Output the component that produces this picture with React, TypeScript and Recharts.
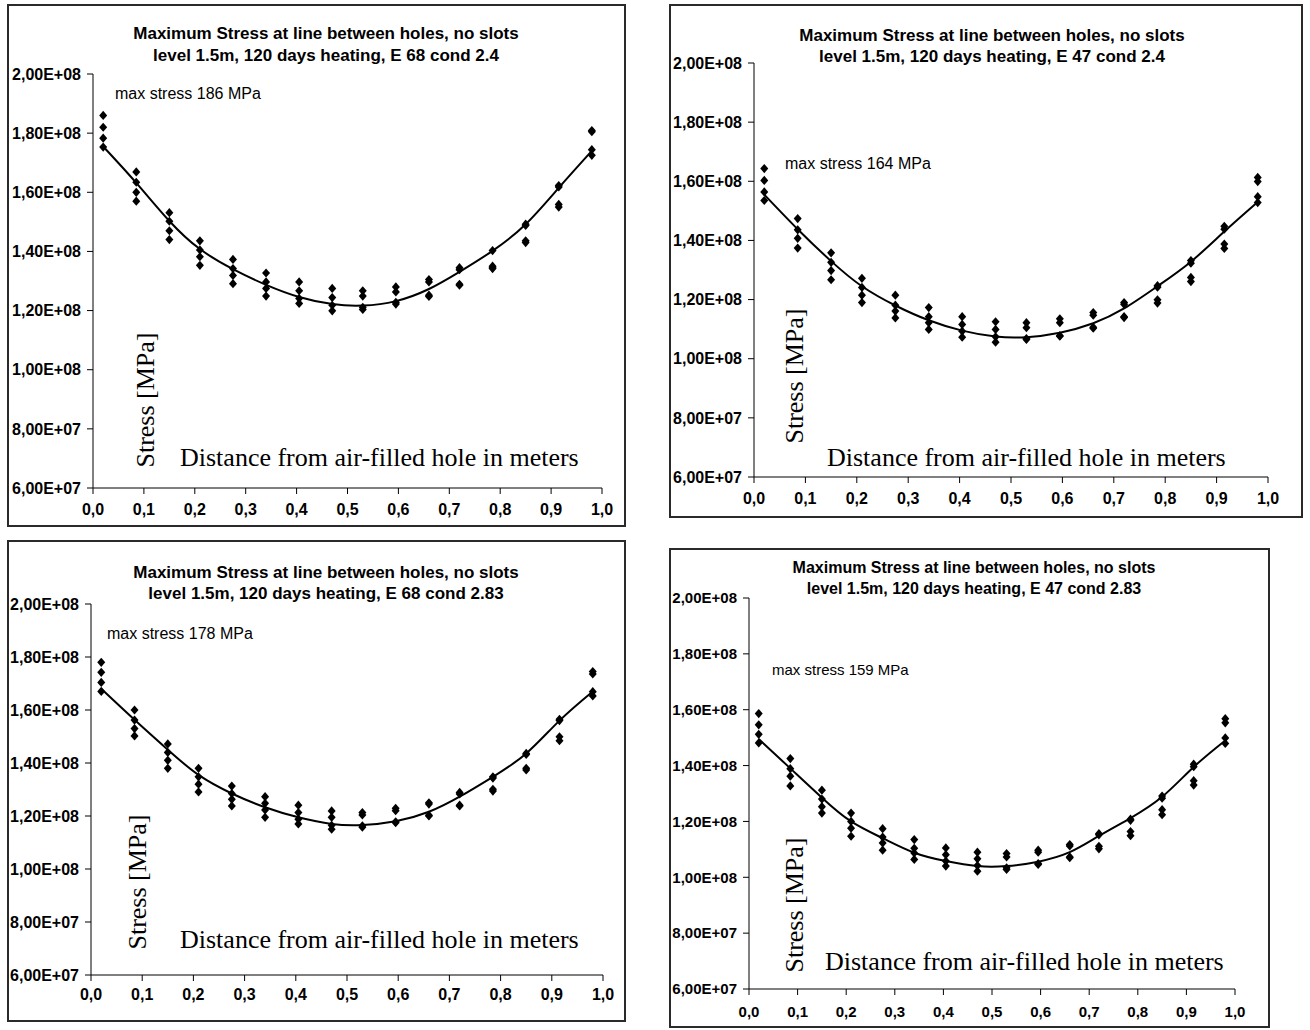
import { ComposedChart, Scatter, Line, XAxis, YAxis } from "recharts";

// distance from the air-filled hole [m]
const distance = [0.02, 0.085, 0.15, 0.21, 0.275, 0.34, 0.405, 0.47, 0.53, 0.595, 0.66, 0.72, 0.785, 0.85, 0.915, 0.98];
const xTicks = [0, 0.1, 0.2, 0.3, 0.4, 0.5, 0.6, 0.7, 0.8, 0.9, 1.0];
const yTicks = [6e7, 8e7, 1e8, 1.2e8, 1.4e8, 1.6e8, 1.8e8, 2e8];

// stress readings in MPa, four per distance
const stressE68c24 = [
  [186, 182, 178.3, 175.3], [166.9, 163.4, 160, 157], [153.1, 150.2, 147, 144], [143.6, 140.5, 138.2, 135.3],
  [137.3, 134.2, 131.9, 129.1], [132.7, 129.7, 127.5, 124.9], [129.7, 126.7, 124.1, 122.4], [127.5, 124.4, 121.8, 119.9],
  [126.7, 124.9, 121.1, 120.4], [128, 126.3, 122.8, 122.2], [130.5, 129.7, 125.2, 124.8], [134.5, 133.8, 128.9, 128.6],
  [140.3, 135, 134.5, 134.2], [149.2, 148.8, 143.6, 143], [162.3, 161.8, 155.9, 155], [180.9, 180.5, 174.4, 172.5],
];
const fitE68c24 = [175.5, 163.2, 150.3, 140.8, 134, 128.7, 124.6, 122.2, 121.7, 123.2, 127.3, 133.1, 140.2, 149.2, 161.5, 174];

const stressE47c24 = [
  [164.3, 160.3, 156.4, 153.5], [147.4, 143.6, 140.7, 137.4], [135.8, 132.6, 129.8, 126.7], [127.2, 124.1, 121.5, 119],
  [121.5, 118.1, 116.1, 113.8], [117.3, 114.2, 112.2, 109.9], [114.2, 111.6, 109.3, 107.3], [112.5, 109.9, 107.4, 105.6],
  [112.2, 110.5, 106.8, 106.5], [113.5, 112.2, 107.8, 107.6], [115.6, 114.7, 110.6, 110.3], [119, 118.4, 114.2, 113.9],
  [124.7, 124.2, 119.9, 118.8], [133.2, 132.3, 127.5, 126.1], [144.8, 143.8, 138.8, 137.3], [161.3, 159.9, 154.8, 152.8],
];
const fitE47c24 = [155.5, 143.8, 133, 124.5, 118, 113, 109.5, 107.5, 107.3, 108.8, 112, 117, 124.5, 132.8, 143, 153];

const stressE68c283 = [
  [178, 174.2, 170.4, 167], [160, 156.2, 153, 150.2], [147.2, 144, 141, 138], [138, 134.8, 132, 129.1],
  [131.3, 128.5, 126.3, 123.8], [127.3, 124.8, 122.3, 119.5], [124.1, 121.3, 118.8, 117], [121.9, 119.5, 116.5, 115],
  [121.3, 120.4, 116.3, 115.8], [122.9, 122, 117.8, 117.5], [125, 124.5, 120.3, 120], [128.9, 128.3, 124.1, 123.8],
  [134.8, 134.3, 130.1, 129.4], [143.6, 143.2, 138, 137.4], [156.5, 156, 149.9, 148.4], [174.5, 173.6, 166.9, 165.3],
];
const fitE68c283 = [168, 156.3, 145, 135.5, 128.5, 123.3, 119.5, 117, 116.6, 118, 121.6, 127.3, 134.8, 143.6, 156, 167];

const stressE47c283 = [
  [158.6, 154.6, 151.2, 148.1], [142.5, 138.9, 136.2, 132.7], [131.2, 128, 125.3, 123], [123, 120, 117.6, 114.7],
  [117.4, 114.4, 112.3, 109.7], [113.5, 110.4, 108.7, 106.4], [110.5, 108.1, 105.8, 104], [109, 106.6, 104.2, 102.2],
  [108.5, 107.3, 103.4, 102.8], [109.7, 109, 104.9, 104.6], [111.7, 111.2, 107.3, 107], [115.6, 115.2, 111.1, 110.2],
  [120.8, 120.4, 116.4, 114.9], [129.1, 128.3, 124.2, 122.4], [140.5, 139.6, 134.6, 133], [156.8, 155.3, 149.9, 147.9],
];
const fitE47c283 = [149.5, 139, 128.5, 120, 114, 108.8, 105.8, 104, 104, 105.6, 109, 114.8, 121.2, 128.8, 139.5, 149];

const titleTop = "Maximum Stress at line between holes, no slots";
const subtitles = [
  "level 1.5m, 120 days heating, E 68 cond 2.4",
  "level 1.5m, 120 days heating, E 47 cond 2.4",
  "level 1.5m, 120 days heating, E 68 cond 2.83",
  "level 1.5m, 120 days heating, E 47 cond 2.83",
];
const maxNotes = ["max stress 186 MPa", "max stress 164 MPa", "max stress 178 MPa", "max stress 159 MPa"];

const SANS = "'Liberation Sans', Arial, sans-serif";
const SERIF = "'Liberation Serif', 'Times New Roman', serif";

// page layout of each panel (px)
const layouts = [
  { box: { l: 7, t: 4, r: 626, b: 527 }, plot: { x0: 93, x1: 602, y0: 74, y1: 488 }, titleX: 326, titleY: [33, 55], note: [115, 94], stress: [146, 400], dist: [180, 458], xTickMargin: 10, fs: 16, ts: 17 },
  { box: { l: 669, t: 4, r: 1303, b: 518 }, plot: { x0: 754, x1: 1268, y0: 63, y1: 477 }, titleX: 992, titleY: [35, 56], note: [785, 164], stress: [795, 376], dist: [827, 458], xTickMargin: 10, fs: 16, ts: 17 },
  { box: { l: 7, t: 540, r: 626, b: 1022 }, plot: { x0: 91, x1: 603, y0: 604, y1: 975 }, titleX: 326, titleY: [572, 593], note: [107, 634], stress: [138, 882], dist: [180, 940], xTickMargin: 8, fs: 16, ts: 17 },
  { box: { l: 669, t: 548, r: 1270, b: 1028 }, plot: { x0: 749, x1: 1235, y0: 598, y1: 989 }, titleX: 974, titleY: [568, 589], note: [772, 669], stress: [795, 905], dist: [825, 962], xTickMargin: 11, fs: 15, ts: 16 },
];

const sci = (v: number) => {
  const [m, e] = v.toExponential(2).split("e");
  const n = Number(e);
  return `${m.replace(".", ",")}E${n < 0 ? "-" : "+"}${String(Math.abs(n)).padStart(2, "0")}`;
};

const Diamond = (props: any) => {
  const { cx, cy } = props;
  if (cx == null || cy == null) return null;
  return <path d={`M${cx},${cy - 4.6}L${cx + 4},${cy}L${cx},${cy + 4.6}L${cx - 4},${cy}Z`} fill="#000" />;
};

function Panel({ idx, stress, fit }: { idx: number; stress: number[][]; fit: number[] }) {
  const c = layouts[idx];
  const { box, plot } = c;
  const w = box.r - box.l;
  const h = box.b - box.t;
  const xAxisH = 34;
  const points = distance.flatMap((x, i) => stress[i].map((s) => ({ x, y: s * 1e6 })));
  const curve = distance.map((x, i) => ({ x, y: fit[i] * 1e6 }));
  const tickStyle = { fontSize: c.fs, fontWeight: 700, fill: "#000", fontFamily: SANS };

  return (
    <>
      <div style={{ position: "absolute", left: box.l, top: box.t }}>
        <ComposedChart
          width={w}
          height={h}
          margin={{ top: plot.y0 - box.t, right: box.r - plot.x1, bottom: box.b - plot.y1 - xAxisH, left: 0 }}
        >
          <XAxis
            type="number"
            dataKey="x"
            domain={[0, 1]}
            ticks={xTicks}
            interval={0}
            allowDataOverflow
            height={xAxisH}
            tickSize={6}
            tickMargin={c.xTickMargin}
            tick={tickStyle}
            tickFormatter={(v) => Number(v).toFixed(1).replace(".", ",")}
            axisLine={{ stroke: "#000" }}
            tickLine={{ stroke: "#000" }}
          />
          <YAxis
            type="number"
            dataKey="y"
            domain={[6e7, 2e8]}
            ticks={yTicks}
            interval={0}
            allowDataOverflow
            width={plot.x0 - box.l}
            tickSize={6}
            tickMargin={6}
            tick={tickStyle}
            tickFormatter={(v) => sci(Number(v))}
            axisLine={{ stroke: "#000" }}
            tickLine={{ stroke: "#000" }}
          />
          <Scatter data={points} dataKey="y" shape={Diamond} isAnimationActive={false} />
          <Line data={curve} dataKey="y" type="natural" stroke="#000" strokeWidth={2} dot={false} isAnimationActive={false} />
        </ComposedChart>
      </div>
      <div
        style={{
          position: "absolute", left: box.l, top: box.t, width: w, height: h,
          boxSizing: "border-box", border: "2px solid #2a2a2a", pointerEvents: "none",
        }}
      />
      {[titleTop, subtitles[idx]].map((t, k) => (
        <div
          key={k}
          style={{
            position: "absolute", left: c.titleX, top: c.titleY[k], transform: "translate(-50%, -50%)",
            whiteSpace: "nowrap", fontFamily: SANS, fontWeight: 700, fontSize: c.ts, lineHeight: 1, color: "#000",
          }}
        >
          {t}
        </div>
      ))}
      <div
        style={{
          position: "absolute", left: c.note[0], top: c.note[1], transform: "translateY(-50%)",
          whiteSpace: "nowrap", fontFamily: SANS, fontSize: c.ts - 1, lineHeight: 1, color: "#000",
        }}
      >
        {maxNotes[idx]}
      </div>
      <div
        style={{
          position: "absolute", left: c.stress[0], top: c.stress[1], transform: "translate(-50%, -50%) rotate(-90deg)",
          whiteSpace: "nowrap", fontFamily: SERIF, fontSize: 26, lineHeight: 1, color: "#000",
        }}
      >
        Stress [MPa]
      </div>
      <div
        style={{
          position: "absolute", left: c.dist[0], top: c.dist[1], transform: "translateY(-50%)",
          whiteSpace: "nowrap", fontFamily: SERIF, fontSize: 26, lineHeight: 1, color: "#000",
        }}
      >
        Distance from air-filled hole in meters
      </div>
    </>
  );
}

export default function App() {
  return (
    <div style={{ position: "absolute", left: 0, top: 0, width: 1310, height: 1030, background: "#fff", overflow: "hidden" }}>
      <Panel idx={0} stress={stressE68c24} fit={fitE68c24} />
      <Panel idx={1} stress={stressE47c24} fit={fitE47c24} />
      <Panel idx={2} stress={stressE68c283} fit={fitE68c283} />
      <Panel idx={3} stress={stressE47c283} fit={fitE47c283} />
    </div>
  );
}
